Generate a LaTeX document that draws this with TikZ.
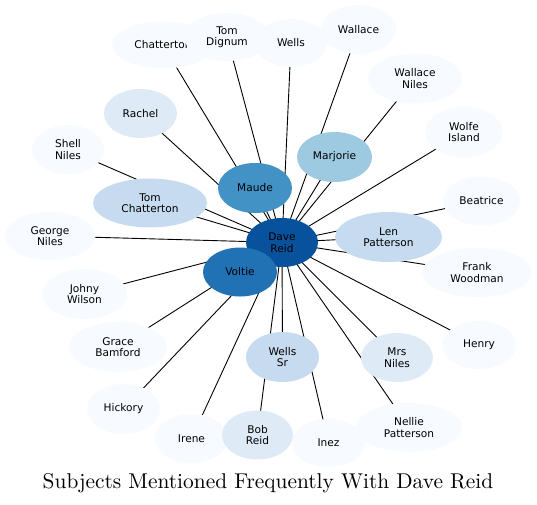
\documentclass[tikz,border=0pt]{standalone}
\usepackage{fontspec}
\newfontfamily\labfont{DejaVu Sans}
\newfontfamily\capfont{lmroman10-regular}[Extension=.otf]
\usetikzlibrary{shapes.geometric,backgrounds}
\definecolor{bA}{HTML}{08519C}
\definecolor{bB}{HTML}{2171B5}
\definecolor{bC}{HTML}{4292C6}
\definecolor{bD}{HTML}{9ECAE1}
\definecolor{bE}{HTML}{C6DBEF}
\definecolor{bF}{HTML}{DEEBF7}
\definecolor{bG}{HTML}{F7FBFF}
\tikzset{
  person/.style n args={3}{ellipse, inner sep=0pt, minimum width=#1, minimum height=#2, fill=#3,
    font=\labfont\fontsize{10.6}{11.5}\selectfont, align=center, text=black},
  link/.style={draw=black, line width=0.9pt}
}
\begin{document}
\begin{tikzpicture}[x=1pt,y=-1pt]
\useasboundingbox (0,0) rectangle (537,504);
% nodes
\node[person={102pt}{47pt}{bG}] (chat) at (163,45) {Chatterton};
\node[person={86pt}{48pt}{bG}] (dign) at (227,37) {Tom\\Dignum};
\node[person={72pt}{48pt}{bG}] (wells) at (291,43) {Wells};
\node[person={75pt}{49pt}{bG}] (wall) at (358.5,29.5) {Wallace};
\node[person={94pt}{50pt}{bG}] (walln) at (415,78.5) {Wallace\\Niles};
\node[person={78pt}{50pt}{bG}] (wolfe) at (464,132) {Wolfe\\Island};
\node[person={77pt}{49pt}{bG}] (beat) at (481.5,201) {Beatrice};
\node[person={110pt}{49pt}{bG}] (frank) at (477,272.5) {Frank\\Woodman};
\node[person={74pt}{48pt}{bG}] (henry) at (479,345) {Henry};
\node[person={106pt}{49pt}{bG}] (nellie) at (409,427.5) {Nellie\\Patterson};
\node[person={73pt}{48pt}{bG}] (inez) at (328.5,443) {Inez};
\node[person={73pt}{49pt}{bG}] (irene) at (191.5,438.5) {Irene};
\node[person={73pt}{50pt}{bG}] (hick) at (123.5,409) {Hickory};
\node[person={98pt}{50pt}{bG}] (grace) at (118,347) {Grace\\Bamford};
\node[person={85pt}{50pt}{bG}] (johny) at (84.5,294) {Johny\\Wilson};
\node[person={90pt}{49pt}{bG}] (george) at (50,236) {George\\Niles};
\node[person={72pt}{49pt}{bG}] (shell) at (68,149.5) {Shell\\Niles};
\node[person={73pt}{49pt}{bF}] (rachel) at (140.5,113.5) {Rachel};
\node[person={72pt}{49pt}{bF}] (mrsn) at (397,357.5) {Mrs\\Niles};
\node[person={71pt}{49pt}{bF}] (bob) at (257.5,435) {Bob\\Reid};
\node[person={114pt}{49pt}{bE}] (tomc) at (150,203) {Tom\\Chatterton};
\node[person={107pt}{50pt}{bE}] (len) at (388.5,237) {Len\\Patterson};
\node[person={73pt}{50pt}{bE}] (wsr) at (282.5,357) {Wells\\Sr};
\node[person={75pt}{50pt}{bD}] (marj) at (334.5,157) {Marjorie};
\node[person={74pt}{50pt}{bC}] (maude) at (255,188) {Maude};
\node[person={72pt}{49pt}{bA}] (dave) at (282,242.5) {Dave\\Reid};
\node[person={74pt}{49pt}{bB}] (voltie) at (240,272) {Voltie};
% caption
\node[font=\capfont\fontsize{21.4}{24}\selectfont, anchor=base, inner sep=0pt] (title) at (268,488) {Subjects Mentioned Frequently With Dave Reid};
% edges
\begin{scope}[on background layer]
\foreach \t in {chat,dign,wells,wall,walln,wolfe,beat,frank,henry,nellie,inez,irene,hick,grace,johny,george,shell,rachel,mrsn,bob,tomc,len,wsr,marj,maude,voltie}
  \draw[link] (dave.center) -- (\t.center);
\end{scope}
\end{tikzpicture}
\end{document}
